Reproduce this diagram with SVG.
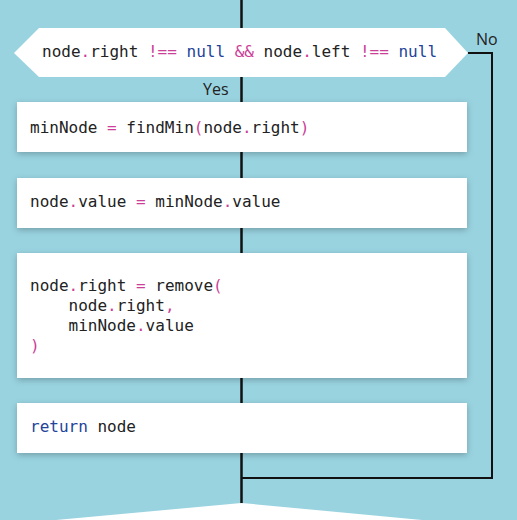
<svg xmlns="http://www.w3.org/2000/svg" width="517" height="520" viewBox="0 0 517 520">
<defs>
<style>
.code{font-family:"DejaVu Sans Mono","Liberation Mono",monospace;font-size:16px;fill:#222;}
.op{fill:#cc3f98;}
.kw{fill:#22449a;}
.lbl{font-family:"Open Sans","Liberation Sans",sans-serif;font-size:16px;fill:#222;}
.box{fill:#fff;filter:url(#sh);}
.wire{stroke:#111;fill:none;}
</style>
<filter id="sh" x="-10%" y="-30%" width="120%" height="170%">
<feDropShadow dx="0" dy="2" stdDeviation="3" flood-color="#000" flood-opacity="0.25"/>
</filter>
</defs>
<rect width="517" height="520" fill="#99d3e0"/>
<g id="connectors">
<line class="wire" x1="241.5" y1="0" x2="241.5" y2="504" stroke-width="2.5"/>
<polyline class="wire" points="468,53 492,53 492,478 241.5,478" stroke-width="2"/>
<text class="lbl" x="476" y="45">No</text>
<text class="lbl" x="203" y="95">Yes</text>
</g>
<g id="decision">
<polygon fill="#fff" points="14,53 39,28 445,28 468,53 445,77 39,77"/>
<text class="code" x="42" y="57">node<tspan class="op">.</tspan>right <tspan class="op">!==</tspan> <tspan class="kw">null</tspan> <tspan class="op">&amp;&amp;</tspan> node<tspan class="op">.</tspan>left <tspan class="op">!==</tspan> <tspan class="kw">null</tspan></text>
</g>
<g id="step1">
<rect class="box" x="17" y="102" width="450" height="50"/>
<text class="code" x="30" y="133">minNode <tspan class="op">=</tspan> findMin<tspan class="op">(</tspan>node<tspan class="op">.</tspan>right<tspan class="op">)</tspan></text>
</g>
<g id="step2">
<rect class="box" x="17" y="178" width="450" height="50"/>
<text class="code" x="30" y="207">node<tspan class="op">.</tspan>value <tspan class="op">=</tspan> minNode<tspan class="op">.</tspan>value</text>
</g>
<g id="step3">
<rect class="box" x="17" y="253" width="450" height="125"/>
<text class="code" x="30" y="291">node<tspan class="op">.</tspan>right <tspan class="op">=</tspan> remove<tspan class="op">(</tspan></text>
<text class="code" x="30" y="311" xml:space="preserve">    node<tspan class="op">.</tspan>right<tspan class="op">,</tspan></text>
<text class="code" x="30" y="331" xml:space="preserve">    minNode<tspan class="op">.</tspan>value</text>
<text class="code" x="30" y="351"><tspan class="op">)</tspan></text>
</g>
<g id="step4">
<rect class="box" x="17" y="403" width="450" height="50"/>
<text class="code" x="30" y="432"><tspan class="kw">return</tspan> node</text>
</g>
<g id="end">
<polygon fill="#fff" points="241.5,503 422,520 56,520"/>
</g>
</svg>
